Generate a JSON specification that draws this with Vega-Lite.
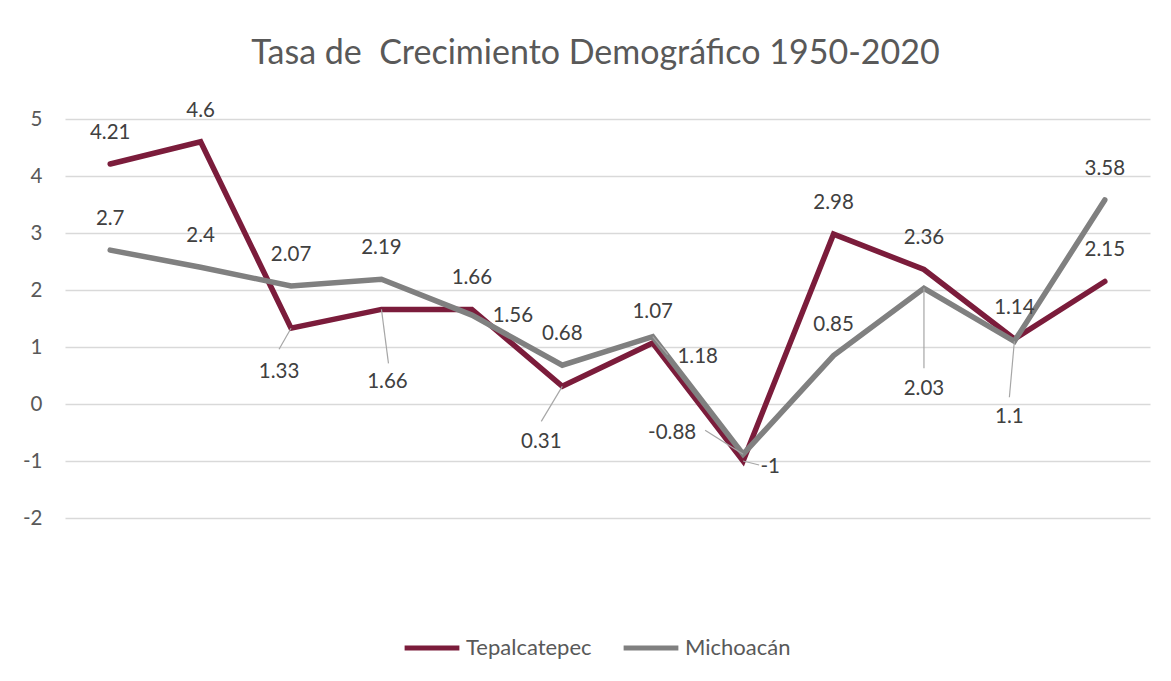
{
  "$schema": "https://vega.github.io/schema/vega-lite/v6.json",
  "autosize": "none",
  "width": 1085,
  "height": 399,
  "padding": {"left": 65, "top": 119, "right": 21, "bottom": 163},
  "background": "white",
  "config": {
    "view": {"stroke": null},
    "font": "Lato",
    "text": {"font": "Lato", "fontSize": 20.5, "color": "#404040", "baseline": "middle", "align": "center"}
  },
  "title": {
    "text": "Tasa de \u00a0Crecimiento Demográfico 1950-2020",
    "font": "Lato",
    "fontSize": 34,
    "fontWeight": "normal",
    "color": "#595959",
    "anchor": "middle",
    "frame": "group",
    "baseline": "alphabetic",
    "offset": 3,
    "dx": -12
  },
  "data": {
    "values": [
      {"i": 1, "serie": "Tepalcatepec", "valor": 4.21},
      {"i": 2, "serie": "Tepalcatepec", "valor": 4.6},
      {"i": 3, "serie": "Tepalcatepec", "valor": 1.33},
      {"i": 4, "serie": "Tepalcatepec", "valor": 1.66},
      {"i": 5, "serie": "Tepalcatepec", "valor": 1.66},
      {"i": 6, "serie": "Tepalcatepec", "valor": 0.31},
      {"i": 7, "serie": "Tepalcatepec", "valor": 1.07},
      {"i": 8, "serie": "Tepalcatepec", "valor": -1},
      {"i": 9, "serie": "Tepalcatepec", "valor": 2.98},
      {"i": 10, "serie": "Tepalcatepec", "valor": 2.36},
      {"i": 11, "serie": "Tepalcatepec", "valor": 1.14},
      {"i": 12, "serie": "Tepalcatepec", "valor": 2.15},
      {"i": 1, "serie": "Michoacán", "valor": 2.7},
      {"i": 2, "serie": "Michoacán", "valor": 2.4},
      {"i": 3, "serie": "Michoacán", "valor": 2.07},
      {"i": 4, "serie": "Michoacán", "valor": 2.19},
      {"i": 5, "serie": "Michoacán", "valor": 1.56},
      {"i": 6, "serie": "Michoacán", "valor": 0.68},
      {"i": 7, "serie": "Michoacán", "valor": 1.18},
      {"i": 8, "serie": "Michoacán", "valor": -0.88},
      {"i": 9, "serie": "Michoacán", "valor": 0.85},
      {"i": 10, "serie": "Michoacán", "valor": 2.03},
      {"i": 11, "serie": "Michoacán", "valor": 1.1},
      {"i": 12, "serie": "Michoacán", "valor": 3.58}
    ]
  },
  "encoding": {
    "x": {"field": "i", "type": "ordinal", "scale": {"type": "point", "padding": 0.5}, "axis": null},
    "y": {
      "field": "valor",
      "type": "quantitative",
      "scale": {"domain": [-2, 5], "nice": false, "zero": false},
      "axis": {
        "title": null,
        "values": [-2, -1, 0, 1, 2, 3, 4, 5],
        "labelExpr": "toString(datum.value)",
        "domain": false,
        "ticks": false,
        "grid": true,
        "gridColor": "#d9d9d9",
        "gridWidth": 1.3,
        "labelFont": "Lato",
        "labelFontSize": 20.5,
        "labelColor": "#595959",
        "labelPadding": 23
      }
    }
  },
  "layer": [
    {
      "transform": [{"filter": "datum.serie === 'Tepalcatepec'"}],
      "mark": {"type": "line", "strokeWidth": 5.5, "strokeCap": "round"},
      "encoding": {
        "color": {
          "field": "serie",
          "type": "nominal",
          "scale": {"domain": ["Tepalcatepec", "Michoacán"], "range": ["#7b1c3b", "#808080"]},
          "legend": {
            "title": null,
            "orient": "none",
            "legendX": 337,
            "legendY": 499,
            "direction": "horizontal",
            "symbolType": "stroke",
            "symbolSize": 3000,
            "symbolStrokeWidth": 5,
            "labelFont": "Lato",
            "labelFontSize": 22,
            "labelColor": "#595959",
            "labelOffset": 4,
            "columnPadding": 21
          }
        }
      }
    },
    {
      "transform": [{"filter": "datum.serie === 'Michoacán'"}],
      "mark": {"type": "line", "strokeWidth": 5.5, "strokeCap": "round"},
      "encoding": {"color": {"field": "serie", "type": "nominal"}}
    },
    {
      "transform": [{"filter": "datum.serie === 'Tepalcatepec' && datum.i === 3"}],
      "mark": {"type": "rule", "color": "#a6a6a6", "strokeWidth": 1.2, "x2Offset": -12, "y2Offset": 21},
      "encoding": {"x2": {"field": "i"}, "y2": {"field": "valor"}}
    },
    {
      "transform": [{"filter": "datum.serie === 'Tepalcatepec' && datum.i === 4"}],
      "mark": {"type": "rule", "color": "#a6a6a6", "strokeWidth": 1.2, "x2Offset": 7, "y2Offset": 54},
      "encoding": {"x2": {"field": "i"}, "y2": {"field": "valor"}}
    },
    {
      "transform": [{"filter": "datum.serie === 'Tepalcatepec' && datum.i === 6"}],
      "mark": {"type": "rule", "color": "#a6a6a6", "strokeWidth": 1.2, "x2Offset": -21, "y2Offset": 35},
      "encoding": {"x2": {"field": "i"}, "y2": {"field": "valor"}}
    },
    {
      "transform": [{"filter": "datum.serie === 'Michoacán' && datum.i === 7"}],
      "mark": {"type": "rule", "color": "#a6a6a6", "strokeWidth": 1.2, "x2Offset": 15, "y2Offset": 18},
      "encoding": {"x2": {"field": "i"}, "y2": {"field": "valor"}}
    },
    {
      "transform": [{"filter": "datum.serie === 'Michoacán' && datum.i === 8"}],
      "mark": {"type": "rule", "color": "#a6a6a6", "strokeWidth": 1.2, "x2Offset": -38, "y2Offset": -24},
      "encoding": {"x2": {"field": "i"}, "y2": {"field": "valor"}}
    },
    {
      "transform": [{"filter": "datum.serie === 'Tepalcatepec' && datum.i === 8"}],
      "mark": {"type": "rule", "color": "#a6a6a6", "strokeWidth": 1.2, "x2Offset": 16, "y2Offset": 4},
      "encoding": {"x2": {"field": "i"}, "y2": {"field": "valor"}}
    },
    {
      "transform": [{"filter": "datum.serie === 'Michoacán' && datum.i === 10"}],
      "mark": {"type": "rule", "color": "#a6a6a6", "strokeWidth": 1.2, "x2Offset": 0, "y2Offset": 80},
      "encoding": {"x2": {"field": "i"}, "y2": {"field": "valor"}}
    },
    {
      "transform": [{"filter": "datum.serie === 'Michoacán' && datum.i === 11"}],
      "mark": {"type": "rule", "color": "#a6a6a6", "strokeWidth": 1.2, "x2Offset": -5, "y2Offset": 56},
      "encoding": {"x2": {"field": "i"}, "y2": {"field": "valor"}}
    },
    {
      "transform": [{"filter": "!((datum.serie === 'Tepalcatepec' && indexof([3,4,6,8], datum.i) >= 0) || (datum.serie === 'Michoacán' && indexof([5,7,8,10,11], datum.i) >= 0))"}],
      "mark": {"type": "text", "dy": -31},
      "encoding": {"text": {"field": "valor", "type": "nominal"}}
    },
    {
      "transform": [{"filter": "datum.serie === 'Tepalcatepec' && datum.i === 3"}],
      "mark": {"type": "text", "dx": -12, "dy": 44},
      "encoding": {"text": {"field": "valor", "type": "nominal"}}
    },
    {
      "transform": [{"filter": "datum.serie === 'Tepalcatepec' && datum.i === 4"}],
      "mark": {"type": "text", "dx": 6, "dy": 73},
      "encoding": {"text": {"field": "valor", "type": "nominal"}}
    },
    {
      "transform": [{"filter": "datum.serie === 'Tepalcatepec' && datum.i === 6"}],
      "mark": {"type": "text", "dx": -21, "dy": 56},
      "encoding": {"text": {"field": "valor", "type": "nominal"}}
    },
    {
      "transform": [{"filter": "datum.serie === 'Tepalcatepec' && datum.i === 8"}],
      "mark": {"type": "text", "dx": 27, "dy": 6},
      "encoding": {"text": {"field": "valor", "type": "nominal"}}
    },
    {
      "transform": [{"filter": "datum.serie === 'Michoacán' && datum.i === 5"}],
      "mark": {"type": "text", "dx": 41, "dy": 1},
      "encoding": {"text": {"field": "valor", "type": "nominal"}}
    },
    {
      "transform": [{"filter": "datum.serie === 'Michoacán' && datum.i === 7"}],
      "mark": {"type": "text", "dx": 45, "dy": 20},
      "encoding": {"text": {"field": "valor", "type": "nominal"}}
    },
    {
      "transform": [{"filter": "datum.serie === 'Michoacán' && datum.i === 8"}],
      "mark": {"type": "text", "dx": -71, "dy": -21},
      "encoding": {"text": {"field": "valor", "type": "nominal"}}
    },
    {
      "transform": [{"filter": "datum.serie === 'Michoacán' && datum.i === 10"}],
      "mark": {"type": "text", "dx": 0, "dy": 101},
      "encoding": {"text": {"field": "valor", "type": "nominal"}}
    },
    {
      "transform": [{"filter": "datum.serie === 'Michoacán' && datum.i === 11"}],
      "mark": {"type": "text", "dx": -5, "dy": 76},
      "encoding": {"text": {"field": "valor", "type": "nominal"}}
    }
  ]
}
